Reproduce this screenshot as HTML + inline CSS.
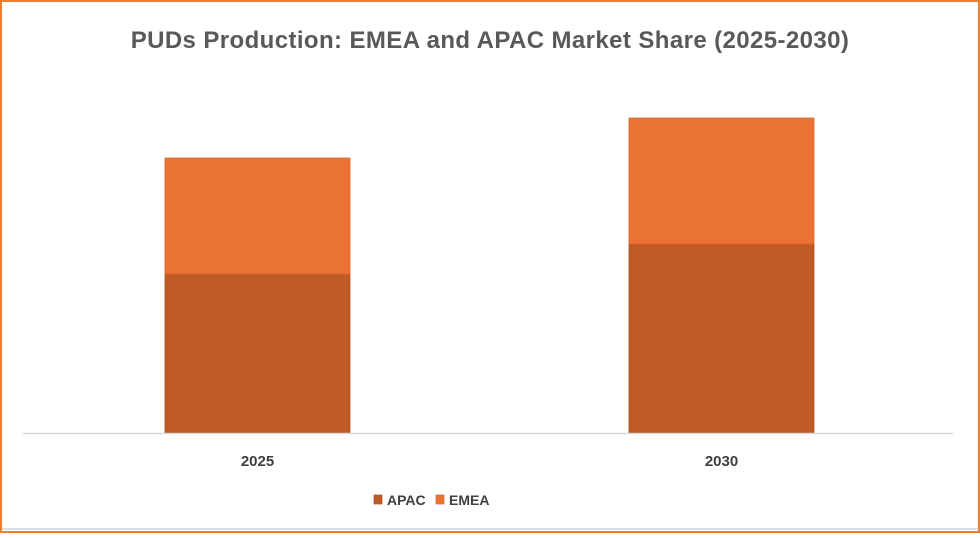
<!DOCTYPE html>
<html><head><meta charset="utf-8"><style>
html,body{margin:0;padding:0;background:#fff}
body{width:980px;height:533px;overflow:hidden;font-family:"Liberation Sans",sans-serif}
</style></head><body>
<svg id="chart" width="980" height="533" xmlns="http://www.w3.org/2000/svg">
<rect x="1" y="1" width="978" height="531" fill="#fff" stroke="#ED7D31" stroke-width="2"/>
<line x1="2" y1="529" x2="978" y2="529" stroke="#d0d0d0" stroke-width="1.5"/>
<text x="490" y="48" text-anchor="middle" font-size="24" letter-spacing="0.4" font-weight="bold" fill="#595959">PUDs Production: EMEA and APAC Market Share (2025-2030)</text>
<g id="bars"></g>
<line x1="23" y1="433.5" x2="953" y2="433.5" stroke="#d9d9d9" stroke-width="1.5"/>
<g id="xlabels"></g>
<g>
<rect x="374" y="495" width="8" height="9" fill="#C05B27" stroke="#a84a1b" stroke-width="0.7"/>
<text x="387" y="505" font-size="14" font-weight="bold" fill="#404040">APAC</text>
<rect x="436" y="495" width="8" height="9" fill="#EA7234" stroke="#d5622a" stroke-width="0.7"/>
<text x="449" y="505" font-size="14" font-weight="bold" fill="#404040">EMEA</text>
</g>
</svg>
<script>
const categories = ["2025","2030"];
const apacValues = [31.8, 37.8];
const emeaValues = [23.2, 25.2];

const NS="http://www.w3.org/2000/svg";
const baseY=433, pxPerUnit=5;
function yScale(v){return baseY - v*pxPerUnit;}
function xCenter(i){return 257.5 + i*464;}
const barW=185;
const bars=document.getElementById('bars');
const xl=document.getElementById('xlabels');
categories.forEach((c,i)=>{
  const x=xCenter(i)-barW/2;
  const a=document.createElementNS(NS,'rect');
  
  
  a.setAttribute('x',x);a.setAttribute('y',yScale(apacValues[i]));
  a.setAttribute('width',barW);a.setAttribute('height',baseY-yScale(apacValues[i]));
  a.setAttribute('fill','#C05B27');a.setAttribute('stroke','#b04e1f');a.setAttribute('stroke-width','0.8');
  bars.appendChild(a);
  const e=document.createElementNS(NS,'rect');
  
  
  const top=yScale(apacValues[i]+emeaValues[i]);
  e.setAttribute('x',x);e.setAttribute('y',top);
  e.setAttribute('width',barW);e.setAttribute('height',yScale(apacValues[i])-top);
  e.setAttribute('fill','#EA7234');e.setAttribute('stroke','#dc6529');e.setAttribute('stroke-width','0.8');
  bars.appendChild(e);
  const t=document.createElementNS(NS,'text');
  
  
  t.setAttribute('x',xCenter(i));t.setAttribute('y',466);
  t.setAttribute('text-anchor','middle');t.setAttribute('font-size','15');t.setAttribute('font-weight','bold');t.setAttribute('fill','#404040');
  t.textContent=c;
  xl.appendChild(t);
});
</script>
</body></html>
